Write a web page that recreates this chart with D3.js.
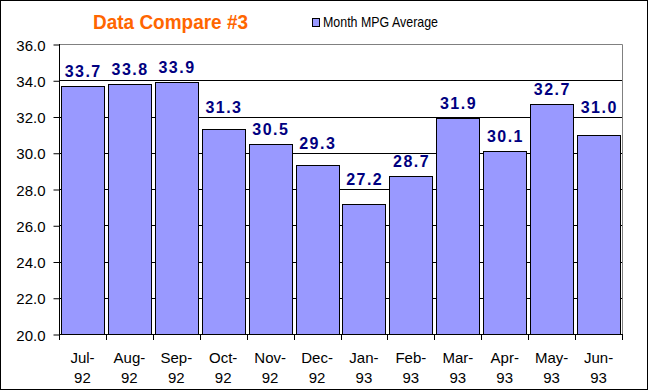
<!DOCTYPE html>
<html>
<head>
<meta charset="utf-8">
<script src="https://cdn.jsdelivr.net/npm/d3@7.9.0/dist/d3.min.js"></script>
<style>
  body { margin: 0; background: #fff; }
  svg { display: block; font-family: "Liberation Sans", Arial, sans-serif; }
</style>
</head>
<body>
<svg id="chart" width="648" height="391"></svg>
<script>
const months = ['Jul-92', 'Aug-92', 'Sep-92', 'Oct-92', 'Nov-92', 'Dec-92',
  'Jan-93', 'Feb-93', 'Mar-93', 'Apr-93', 'May-93', 'Jun-93'];
const mpg = [33.7, 33.8, 33.9, 31.3, 30.5, 29.3, 27.2, 28.7, 31.9, 30.1, 32.7, 31.0];
const yTicks = [20, 22, 24, 26, 28, 30, 32, 34, 36];
const seriesName = 'Month MPG Average';
const title = 'Data Compare #3';

const svg = d3.select('#chart');
const plotLeft = 59, plotRight = 622, plotTop = 44, plotBottom = 334;

// outer frame
svg.append('rect')
  .attr('x', 0.5).attr('y', 0.5).attr('width', 647).attr('height', 389)
  .attr('fill', '#fff').attr('stroke', '#000');

let x = d3.scaleBand().domain(months).range([plotLeft, plotRight]).paddingInner(0.085).paddingOuter(0.0425);
let y = d3.scaleLinear().domain([20, 36]).range([plotBottom, plotTop]);

let gridTicks = yTicks.filter((t) => t > 20 && t < 36);

// gridlines (behind bars)
svg.append('g')
  .selectAll('line')
  .data(gridTicks)
  .join('line')
  .attr('x1', plotLeft).attr('x2', plotRight)
  .attr('y1', (d) => Math.round(y(d)) + 0.5).attr('y2', (d) => Math.round(y(d)) + 0.5)
  .attr('stroke', '#000');

// plot area top/right border in gray
svg.append('path')
  .attr('d', `M${plotLeft},${plotTop + 0.5}H${plotRight + 0.5}V${plotBottom}`)
  .attr('fill', 'none').attr('stroke', '#808080');

// bars
svg.append('g')
  .selectAll('rect')
  .data(mpg)
  .join('rect')
  .attr('x', (d, i) => Math.round(x(months[i])) + 0.5)
  .attr('y', (d) => Math.round(y(d)) + 0.5)
  .attr('width', Math.round(x.bandwidth()))
  .attr('height', (d) => Math.round(y(20)) - Math.round(y(d)))
  .attr('fill', '#9999FF')
  .attr('stroke', '#000');

// value labels: sit above the bar, nudged up when they would cross a gridline
const labelGap = 9, capHeight = 11.5, lineClear = 4;
function labelBaseline(v) {
  let base = y(v) - labelGap;
  for (const t of gridTicks) {
    let gy = y(t);
    if (base > gy && base - capHeight < gy) base = gy - lineClear;
  }
  return base;
}

svg.append('g')
  .selectAll('text')
  .data(mpg)
  .join('text')
  .attr('x', (d, i) => x(months[i]) + x.bandwidth() / 2)
  .attr('y', (d) => labelBaseline(d))
  .attr('dx', 0.75)
  .attr('text-anchor', 'middle')
  .attr('font-size', 16)
  .attr('font-weight', 'bold')
  .attr('letter-spacing', 1.5)
  .attr('fill', '#000080')
  .text((d) => d.toFixed(1));

// y axis
let yAxis = d3.axisLeft(y).tickValues(yTicks).tickFormat(d3.format('.1f')).tickSize(6).tickPadding(8);
let yg = svg.append('g').attr('transform', `translate(${plotLeft + 0.5},0)`).call(yAxis);
yg.select('.domain').attr('d', `M0,${plotTop}V${plotBottom + 0.5}`);
yg.selectAll('.tick line').attr('transform', 'translate(0,0.5)');
yg.selectAll('text').attr('font-size', 15).attr('font-family', '"Liberation Sans", Arial, sans-serif')
  .attr('fill', '#000').attr('dy', '0.4em');

// x axis baseline and ticks at category boundaries
svg.append('line')
  .attr('x1', plotLeft).attr('x2', plotRight + 1)
  .attr('y1', plotBottom + 0.5).attr('y2', plotBottom + 0.5)
  .attr('stroke', '#000');
let step = x.step();
svg.append('g')
  .selectAll('line')
  .data(d3.range(months.length + 1))
  .join('line')
  .attr('x1', (i) => Math.round(plotLeft + i * step) + 0.5)
  .attr('x2', (i) => Math.round(plotLeft + i * step) + 0.5)
  .attr('y1', plotBottom).attr('y2', plotBottom + 6)
  .attr('stroke', '#000');

let xl = svg.append('g')
  .selectAll('text')
  .data(months)
  .join('text')
  .attr('text-anchor', 'middle')
  .attr('font-size', 15)
  .attr('fill', '#000')
  .attr('transform', (d) => `translate(${x(d) + x.bandwidth() / 2},0)`);
xl.append('tspan').attr('x', 0).attr('y', 363).text((d) => d.split('-')[0] + '-');
xl.append('tspan').attr('x', 0).attr('y', 383).text((d) => d.split('-')[1]);

// title
svg.append('text')
  .attr('x', 93).attr('y', 29)
  .attr('font-size', 21)
  .attr('font-weight', 'bold')
  .attr('fill', '#FF6600')
  .attr('textLength', 155)
  .attr('lengthAdjust', 'spacingAndGlyphs')
  .text(title);

// legend
svg.append('rect')
  .attr('x', 312.5).attr('y', 18.5).attr('width', 7).attr('height', 8)
  .attr('fill', '#9999FF').attr('stroke', '#000');
svg.append('text')
  .attr('x', 323).attr('y', 27)
  .attr('font-size', 15)
  .attr('fill', '#000')
  .attr('textLength', 115)
  .attr('lengthAdjust', 'spacingAndGlyphs')
  .text(seriesName);
</script>
</body>
</html>
